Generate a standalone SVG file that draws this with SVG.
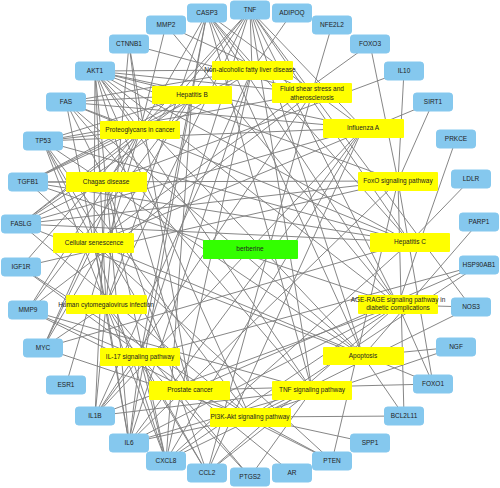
<svg xmlns="http://www.w3.org/2000/svg" width="500" height="488" viewBox="0 0 500 488">
<style>
.e line{stroke:#808080;stroke-width:0.95}
.t rect{fill:#85C8EE;stroke:#85C8EE}
.p rect{fill:#FFFF00}
.d rect{fill:#33FF00}
text{font-family:"Liberation Sans",Arial,sans-serif;font-size:6.5px;text-anchor:middle;fill:#222}
</style>
<rect width="500" height="488" fill="#fff"/>
<g id="edges" class="e">
<!-- NAFLD 252,70 -->
<line x1="252" y1="70" x2="292" y2="13"/><line x1="252" y1="70" x2="95" y2="71"/><line x1="252" y1="70" x2="207" y2="13"/><line x1="252" y1="70" x2="250" y2="10"/><line x1="252" y1="70" x2="66" y2="102"/><line x1="252" y1="70" x2="21" y2="224"/><line x1="252" y1="70" x2="95" y2="416"/><line x1="252" y1="70" x2="129" y2="443"/><line x1="252" y1="70" x2="166" y2="461"/><line x1="252" y1="70" x2="28" y2="182"/>
<!-- HBV 192,95 -->
<line x1="192" y1="95" x2="95" y2="71"/><line x1="192" y1="95" x2="207" y2="13"/><line x1="192" y1="95" x2="250" y2="10"/><line x1="192" y1="95" x2="66" y2="102"/><line x1="192" y1="95" x2="21" y2="224"/><line x1="192" y1="95" x2="43" y2="141"/><line x1="192" y1="95" x2="28" y2="182"/><line x1="192" y1="95" x2="43" y2="348"/><line x1="192" y1="95" x2="129" y2="443"/><line x1="192" y1="95" x2="166" y2="461"/><line x1="192" y1="95" x2="28" y2="310"/>
<!-- FSS 312,93 -->
<line x1="312" y1="93" x2="95" y2="71"/><line x1="312" y1="93" x2="250" y2="10"/><line x1="312" y1="93" x2="95" y2="416"/><line x1="312" y1="93" x2="332" y2="25"/><line x1="312" y1="93" x2="471" y2="307"/><line x1="312" y1="93" x2="166" y2="25"/><line x1="312" y1="93" x2="28" y2="310"/><line x1="312" y1="93" x2="207" y2="473"/><line x1="312" y1="93" x2="43" y2="141"/><line x1="312" y1="93" x2="129" y2="44"/>
<!-- PRO 140,130 -->
<line x1="140" y1="130" x2="95" y2="71"/><line x1="140" y1="130" x2="207" y2="13"/><line x1="140" y1="130" x2="129" y2="44"/><line x1="140" y1="130" x2="66" y2="102"/><line x1="140" y1="130" x2="21" y2="224"/><line x1="140" y1="130" x2="43" y2="141"/><line x1="140" y1="130" x2="28" y2="182"/><line x1="140" y1="130" x2="166" y2="25"/><line x1="140" y1="130" x2="28" y2="310"/><line x1="140" y1="130" x2="43" y2="348"/><line x1="140" y1="130" x2="21" y2="267"/><line x1="140" y1="130" x2="66" y2="385"/><line x1="140" y1="130" x2="250" y2="10"/>
<!-- FLU 363,128 -->
<line x1="363" y1="128" x2="95" y2="71"/><line x1="363" y1="128" x2="250" y2="10"/><line x1="363" y1="128" x2="66" y2="102"/><line x1="363" y1="128" x2="21" y2="224"/><line x1="363" y1="128" x2="95" y2="416"/><line x1="363" y1="128" x2="129" y2="443"/><line x1="363" y1="128" x2="166" y2="461"/><line x1="363" y1="128" x2="207" y2="473"/><line x1="363" y1="128" x2="207" y2="13"/><line x1="363" y1="128" x2="43" y2="141"/>
<!-- CHA 106,182 -->
<line x1="106" y1="182" x2="95" y2="71"/><line x1="106" y1="182" x2="250" y2="10"/><line x1="106" y1="182" x2="66" y2="102"/><line x1="106" y1="182" x2="21" y2="224"/><line x1="106" y1="182" x2="28" y2="182"/><line x1="106" y1="182" x2="95" y2="416"/><line x1="106" y1="182" x2="129" y2="443"/><line x1="106" y1="182" x2="166" y2="461"/><line x1="106" y1="182" x2="207" y2="473"/><line x1="106" y1="182" x2="404" y2="71"/>
<!-- FOXO 398,181 -->
<line x1="398" y1="181" x2="95" y2="71"/><line x1="398" y1="181" x2="433" y2="384"/><line x1="398" y1="181" x2="370" y2="44"/><line x1="398" y1="181" x2="433" y2="102"/><line x1="398" y1="181" x2="28" y2="182"/><line x1="398" y1="181" x2="332" y2="461"/><line x1="398" y1="181" x2="404" y2="416"/><line x1="398" y1="181" x2="21" y2="224"/><line x1="398" y1="181" x2="129" y2="443"/><line x1="398" y1="181" x2="404" y2="71"/><line x1="398" y1="181" x2="21" y2="267"/>
<!-- CS 94,243 -->
<line x1="94" y1="243" x2="95" y2="71"/><line x1="94" y1="243" x2="43" y2="141"/><line x1="94" y1="243" x2="28" y2="182"/><line x1="94" y1="243" x2="433" y2="384"/><line x1="94" y1="243" x2="370" y2="44"/><line x1="94" y1="243" x2="433" y2="102"/><line x1="94" y1="243" x2="43" y2="348"/><line x1="94" y1="243" x2="129" y2="443"/><line x1="94" y1="243" x2="166" y2="461"/><line x1="94" y1="243" x2="332" y2="461"/>
<!-- HCV 410,242 -->
<line x1="410" y1="242" x2="95" y2="71"/><line x1="410" y1="242" x2="250" y2="10"/><line x1="410" y1="242" x2="207" y2="13"/><line x1="410" y1="242" x2="66" y2="102"/><line x1="410" y1="242" x2="43" y2="141"/><line x1="410" y1="242" x2="471" y2="179"/><line x1="410" y1="242" x2="166" y2="461"/><line x1="410" y1="242" x2="43" y2="348"/><line x1="410" y1="242" x2="28" y2="182"/><line x1="410" y1="242" x2="21" y2="224"/>
<!-- HCMV 106,305 -->
<line x1="106" y1="305" x2="95" y2="71"/><line x1="106" y1="305" x2="207" y2="13"/><line x1="106" y1="305" x2="250" y2="10"/><line x1="106" y1="305" x2="66" y2="102"/><line x1="106" y1="305" x2="43" y2="141"/><line x1="106" y1="305" x2="43" y2="348"/><line x1="106" y1="305" x2="129" y2="443"/><line x1="106" y1="305" x2="95" y2="416"/><line x1="106" y1="305" x2="166" y2="461"/><line x1="106" y1="305" x2="207" y2="473"/><line x1="106" y1="305" x2="250" y2="477"/><line x1="106" y1="305" x2="129" y2="44"/>
<!-- AGE 398,305 -->
<line x1="398" y1="305" x2="95" y2="71"/><line x1="398" y1="305" x2="207" y2="13"/><line x1="398" y1="305" x2="250" y2="10"/><line x1="398" y1="305" x2="28" y2="182"/><line x1="398" y1="305" x2="129" y2="443"/><line x1="398" y1="305" x2="95" y2="416"/><line x1="398" y1="305" x2="166" y2="461"/><line x1="398" y1="305" x2="207" y2="473"/><line x1="398" y1="305" x2="471" y2="307"/><line x1="398" y1="305" x2="166" y2="25"/><line x1="398" y1="305" x2="433" y2="384"/><line x1="398" y1="305" x2="456" y2="139"/>
<!-- IL17 140,357 -->
<line x1="140" y1="357" x2="250" y2="10"/><line x1="140" y1="357" x2="207" y2="13"/><line x1="140" y1="357" x2="129" y2="443"/><line x1="140" y1="357" x2="95" y2="416"/><line x1="140" y1="357" x2="166" y2="461"/><line x1="140" y1="357" x2="207" y2="473"/><line x1="140" y1="357" x2="250" y2="477"/><line x1="140" y1="357" x2="28" y2="310"/><line x1="140" y1="357" x2="479" y2="265"/>
<!-- APO 363,356 -->
<line x1="363" y1="356" x2="95" y2="71"/><line x1="363" y1="356" x2="207" y2="13"/><line x1="363" y1="356" x2="250" y2="10"/><line x1="363" y1="356" x2="66" y2="102"/><line x1="363" y1="356" x2="21" y2="224"/><line x1="363" y1="356" x2="43" y2="141"/><line x1="363" y1="356" x2="456" y2="347"/><line x1="363" y1="356" x2="479" y2="222"/><line x1="363" y1="356" x2="404" y2="416"/>
<!-- PCA 190,390 -->
<line x1="190" y1="390" x2="95" y2="71"/><line x1="190" y1="390" x2="43" y2="141"/><line x1="190" y1="390" x2="292" y2="473"/><line x1="190" y1="390" x2="129" y2="44"/><line x1="190" y1="390" x2="21" y2="267"/><line x1="190" y1="390" x2="332" y2="461"/><line x1="190" y1="390" x2="433" y2="384"/><line x1="190" y1="390" x2="479" y2="265"/><line x1="190" y1="390" x2="28" y2="310"/>
<!-- TNFS 312,390 -->
<line x1="312" y1="390" x2="250" y2="10"/><line x1="312" y1="390" x2="95" y2="71"/><line x1="312" y1="390" x2="207" y2="13"/><line x1="312" y1="390" x2="66" y2="102"/><line x1="312" y1="390" x2="129" y2="443"/><line x1="312" y1="390" x2="95" y2="416"/><line x1="312" y1="390" x2="207" y2="473"/><line x1="312" y1="390" x2="250" y2="477"/><line x1="312" y1="390" x2="28" y2="310"/><line x1="312" y1="390" x2="166" y2="461"/>
<!-- PI3K 250,417 -->
<line x1="250" y1="417" x2="95" y2="71"/><line x1="250" y1="417" x2="43" y2="141"/><line x1="250" y1="417" x2="43" y2="348"/><line x1="250" y1="417" x2="21" y2="267"/><line x1="250" y1="417" x2="129" y2="443"/><line x1="250" y1="417" x2="21" y2="224"/><line x1="250" y1="417" x2="332" y2="461"/><line x1="250" y1="417" x2="471" y2="307"/><line x1="250" y1="417" x2="370" y2="443"/><line x1="250" y1="417" x2="404" y2="416"/><line x1="250" y1="417" x2="479" y2="265"/><line x1="250" y1="417" x2="456" y2="347"/>
</g>
<g id="n-TNF" class="t"><rect x="230.5" y="1" width="39" height="18" rx="3"/><text x="250" y="12.3">TNF</text></g>
<g id="n-ADIPOQ" class="t"><rect x="272.5" y="4" width="39" height="18" rx="3"/><text x="292" y="15.3">ADIPOQ</text></g>
<g id="n-NFE2L2" class="t"><rect x="312.5" y="16" width="39" height="18" rx="3"/><text x="332" y="27.3">NFE2L2</text></g>
<g id="n-FOXO3" class="t"><rect x="350.5" y="35" width="39" height="18" rx="3"/><text x="370" y="46.3">FOXO3</text></g>
<g id="n-IL10" class="t"><rect x="384.5" y="62" width="39" height="18" rx="3"/><text x="404" y="73.3">IL10</text></g>
<g id="n-SIRT1" class="t"><rect x="413.5" y="93" width="39" height="18" rx="3"/><text x="433" y="104.3">SIRT1</text></g>
<g id="n-PRKCE" class="t"><rect x="436.5" y="130" width="39" height="18" rx="3"/><text x="456" y="141.3">PRKCE</text></g>
<g id="n-LDLR" class="t"><rect x="451.5" y="170" width="39" height="18" rx="3"/><text x="471" y="181.3">LDLR</text></g>
<g id="n-PARP1" class="t"><rect x="459.5" y="213" width="39" height="18" rx="3"/><text x="479" y="224.3">PARP1</text></g>
<g id="n-HSP90AB1" class="t"><rect x="459.5" y="256" width="39" height="18" rx="3"/><text x="479" y="267.3">HSP90AB1</text></g>
<g id="n-NOS3" class="t"><rect x="451.5" y="298" width="39" height="18" rx="3"/><text x="471" y="309.3">NOS3</text></g>
<g id="n-NGF" class="t"><rect x="436.5" y="338" width="39" height="18" rx="3"/><text x="456" y="349.3">NGF</text></g>
<g id="n-FOXO1" class="t"><rect x="413.5" y="375" width="39" height="18" rx="3"/><text x="433" y="386.3">FOXO1</text></g>
<g id="n-BCL2L11" class="t"><rect x="384.5" y="407" width="39" height="18" rx="3"/><text x="404" y="418.3">BCL2L11</text></g>
<g id="n-SPP1" class="t"><rect x="350.5" y="434" width="39" height="18" rx="3"/><text x="370" y="445.3">SPP1</text></g>
<g id="n-PTEN" class="t"><rect x="312.5" y="452" width="39" height="18" rx="3"/><text x="332" y="463.3">PTEN</text></g>
<g id="n-AR" class="t"><rect x="272.5" y="464" width="39" height="18" rx="3"/><text x="292" y="475.3">AR</text></g>
<g id="n-PTGS2" class="t"><rect x="230.5" y="468" width="39" height="18" rx="3"/><text x="250" y="479.3">PTGS2</text></g>
<g id="n-CCL2" class="t"><rect x="187.5" y="464" width="39" height="18" rx="3"/><text x="207" y="475.3">CCL2</text></g>
<g id="n-CXCL8" class="t"><rect x="146.5" y="452" width="39" height="18" rx="3"/><text x="166" y="463.3">CXCL8</text></g>
<g id="n-IL6" class="t"><rect x="109.5" y="434" width="39" height="18" rx="3"/><text x="129" y="445.3">IL6</text></g>
<g id="n-IL1B" class="t"><rect x="75.5" y="407" width="39" height="18" rx="3"/><text x="95" y="418.3">IL1B</text></g>
<g id="n-ESR1" class="t"><rect x="46.5" y="376" width="39" height="18" rx="3"/><text x="66" y="387.3">ESR1</text></g>
<g id="n-MYC" class="t"><rect x="23.5" y="339" width="39" height="18" rx="3"/><text x="43" y="350.3">MYC</text></g>
<g id="n-MMP9" class="t"><rect x="8.5" y="301" width="39" height="18" rx="3"/><text x="28" y="312.3">MMP9</text></g>
<g id="n-IGF1R" class="t"><rect x="1.5" y="258" width="39" height="18" rx="3"/><text x="21" y="269.3">IGF1R</text></g>
<g id="n-FASLG" class="t"><rect x="1.5" y="215" width="39" height="18" rx="3"/><text x="21" y="226.3">FASLG</text></g>
<g id="n-TGFB1" class="t"><rect x="8.5" y="173" width="39" height="18" rx="3"/><text x="28" y="184.3">TGFB1</text></g>
<g id="n-TP53" class="t"><rect x="23.5" y="132" width="39" height="18" rx="3"/><text x="43" y="143.3">TP53</text></g>
<g id="n-FAS" class="t"><rect x="46.5" y="93" width="39" height="18" rx="3"/><text x="66" y="104.3">FAS</text></g>
<g id="n-AKT1" class="t"><rect x="75.5" y="62" width="39" height="18" rx="3"/><text x="95" y="73.3">AKT1</text></g>
<g id="n-CTNNB1" class="t"><rect x="109.5" y="35" width="39" height="18" rx="3"/><text x="129" y="46.3">CTNNB1</text></g>
<g id="n-MMP2" class="t"><rect x="146.5" y="16" width="39" height="18" rx="3"/><text x="166" y="27.3">MMP2</text></g>
<g id="n-CASP3" class="t"><rect x="187.5" y="4" width="39" height="18" rx="3"/><text x="207" y="15.3">CASP3</text></g>
<g id="p-NAFLD" class="p"><rect x="212" y="61" width="81" height="19" rx="1"/><text x="250" y="72.3">Non-alcoholic fatty liver disease</text></g>
<g id="p-HBV" class="p"><rect x="152" y="86" width="80" height="18" rx="1"/><text x="192" y="97.3">Hepatitis B</text></g>
<g id="p-FSS" class="p"><rect x="272" y="83" width="80" height="20" rx="1"/><text x="312" y="91">Fluid shear stress and</text><text x="312" y="99.5">atherosclerosis</text></g>
<g id="p-PRO" class="p"><rect x="100" y="121" width="80" height="18" rx="1"/><text x="140" y="132.3">Proteoglycans in cancer</text></g>
<g id="p-FLU" class="p"><rect x="323" y="119" width="81" height="19" rx="1"/><text x="363" y="130.3">Influenza A</text></g>
<g id="p-CHA" class="p"><rect x="66" y="172" width="81" height="20" rx="1"/><text x="106" y="184.3">Chagas disease</text></g>
<g id="p-FOXO" class="p"><rect x="358" y="172" width="80" height="19" rx="1"/><text x="398" y="183.3">FoxO signaling pathway</text></g>
<g id="p-CS" class="p"><rect x="53" y="233" width="81" height="20" rx="1"/><text x="94" y="245.3">Cellular senescence</text></g>
<g id="p-HCV" class="p"><rect x="370" y="233" width="80" height="19" rx="1"/><text x="410" y="244.3">Hepatitis C</text></g>
<g id="p-HCMV" class="p"><rect x="66" y="295" width="81" height="19" rx="1"/><text x="106" y="307.3">Human cytomegalovirus infection</text></g>
<g id="p-AGE" class="p"><rect x="358" y="295" width="80" height="19" rx="1"/><text x="398" y="301.5">AGE-RAGE signaling pathway in</text><text x="398" y="310">diabetic complications</text></g>
<g id="p-IL17" class="p"><rect x="100" y="348" width="80" height="18" rx="1"/><text x="140" y="359.3">IL-17 signaling pathway</text></g>
<g id="p-APO" class="p"><rect x="323" y="347" width="81" height="18" rx="1"/><text x="363" y="358.3">Apoptosis</text></g>
<g id="p-PCA" class="p"><rect x="149" y="381" width="81" height="19" rx="1"/><text x="190" y="392.3">Prostate cancer</text></g>
<g id="p-TNFS" class="p"><rect x="272" y="381" width="80" height="19" rx="1"/><text x="312" y="392.3">TNF signaling pathway</text></g>
<g id="p-PI3K" class="p"><rect x="210" y="408" width="81" height="19" rx="1"/><text x="250" y="419.3">PI3K-Akt signaling pathway</text></g>
<g id="d-berberine" class="d"><rect x="203" y="240" width="95" height="19" rx="1"/><text x="250" y="251.3">berberine</text></g>
</svg>
